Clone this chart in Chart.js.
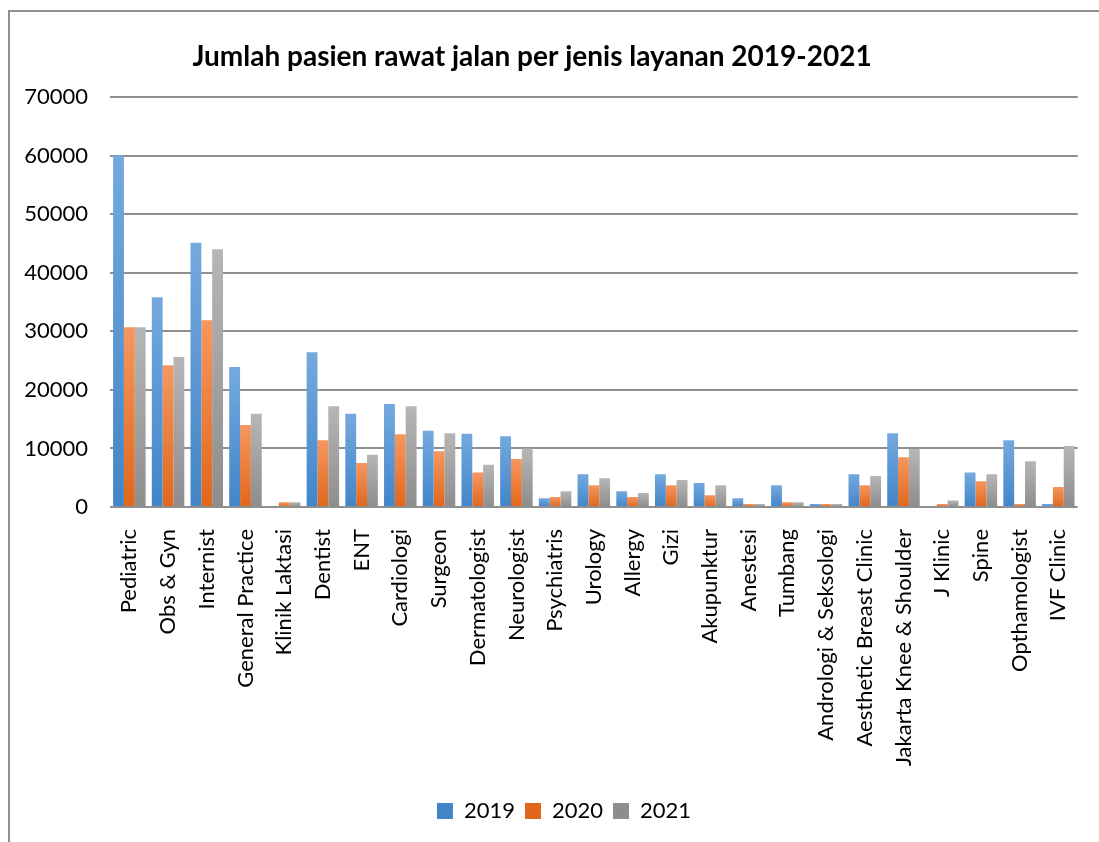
<!DOCTYPE html>
<html>
<head>
<meta charset="utf-8">
<script src="https://cdn.jsdelivr.net/npm/chart.js@4.4.1/dist/chart.umd.min.js"></script>
<style>
  html, body { margin: 0; padding: 0; background: #fff; overflow: hidden; }
  #frame {
    position: absolute; left: 8px; top: 10px; width: 1200px; height: 900px;
    border-left: 2px solid #8f8f8f; border-top: 2px solid #8f8f8f;
  }
  #wrap { position: absolute; left: 0; top: 0; width: 1099px; height: 842px; }
</style>
</head>
<body>
<div id="frame"></div>
<div id="wrap"><canvas id="chart-layanan" width="1099" height="842"></canvas></div>
<script>
// kategori layanan
const categories = [
    'Pediatric', 'Obs & Gyn', 'Internist', 'General Practice', 'Klinik Laktasi',
    'Dentist', 'ENT', 'Cardiologi', 'Surgeon', 'Dermatologist', 'Neurologist',
    'Psychiatris', 'Urology', 'Allergy', 'Gizi', 'Akupunktur', 'Anestesi',
    'Tumbang', 'Andrologi & Seksologi', 'Aesthetic Breast Clinic',
    'Jakarta Knee & Shoulder', 'J Klinic', 'Spine', 'Opthamologist', 'IVF Clinic'
];

const values2019 = [60000, 35800, 45100, 23900, 0, 26400, 15900, 17600, 13000, 12500, 12100,
    1500, 5600, 2700, 5600, 4100, 1500, 3700, 500, 5600, 12600, 0, 5900, 11400, 500];
const values2020 = [30700, 24200, 31900, 14000, 800, 11400, 7500, 12400, 9500, 5900, 8200,
    1700, 3700, 1700, 3700, 2000, 500, 800, 500, 3700, 8500, 500, 4400, 500, 3400];
const values2021 = [30700, 25600, 44000, 15900, 800, 17200, 8900, 17200, 12600, 7200, 10000,
    2700, 4900, 2400, 4600, 3700, 500, 800, 500, 5300, 9900, 1100, 5600, 7800, 10400];

const seriesNames = ['2019', '2020', '2021'];
const yTicks = [0, 10000, 20000, 30000, 40000, 50000, 60000, 70000];

const FONT = 'Lato, "Open Sans", sans-serif';

// warna gradasi ala Excel (atas terang, bawah gelap)
const palettes = [
    { top: '#74a9de', bottom: '#4285c8', solid: '#5b9bd5' },
    { top: '#f59760', bottom: '#e0671c', solid: '#ed7d31' },
    { top: '#b6b6b6', bottom: '#8d8d8d', solid: '#a5a5a5' }
];

function barFill(pal) {
    return function (context) {
        const chart = context.chart;
        const yScale = chart.scales && chart.scales.y;
        if (context.dataIndex === undefined || !yScale || !context.parsed) {
            return pal.solid;
        }
        const top = yScale.getPixelForValue(context.parsed.y);
        const bottom = yScale.getPixelForValue(0);
        if (!isFinite(top) || Math.abs(bottom - top) < 1) return pal.bottom;
        const g = chart.ctx.createLinearGradient(0, top, 0, bottom);
        g.addColorStop(0, pal.top);
        g.addColorStop(1, pal.bottom);
        return g;
    };
}

const seriesValues = [values2019, values2020, values2021];

const datasets = seriesNames.map((name, i) => ({
    label: name,
    data: seriesValues[i],
    backgroundColor: barFill(palettes[i]),
    borderWidth: 0,
    categoryPercentage: 0.84,
    barPercentage: 1.0
}));

// judul digambar manual agar posisinya sama dengan gambar asli
const titlePlugin = {
    id: 'judul',
    afterLayout(chart) {
        // geser legenda sedikit ke kanan
        if (chart.legend) {
            chart.legend.left += 12;
            chart.legend.right += 12;
        }
    },
    afterDraw(chart) {
        const ctx = chart.ctx;
        ctx.save();
        ctx.font = 'bold 28px ' + FONT;
        ctx.fillStyle = '#000';
        ctx.textAlign = 'center';
        ctx.textBaseline = 'alphabetic';
        ctx.fillText('Jumlah pasien rawat jalan per jenis layanan 2019-2021', 532, 66);
        ctx.restore();
    }
};

new Chart(document.getElementById('chart-layanan'), {
    type: 'bar',
    data: { labels: categories, datasets: datasets },
    plugins: [titlePlugin],
    options: {
        responsive: false,
        animation: false,
        layout: {
            padding: { top: 97, left: 20, right: 15, bottom: 10 }
        },
        plugins: {
            title: { display: false },
            tooltip: { enabled: false },
            legend: {
                display: true,
                position: 'bottom',
                labels: {
                    color: '#000',
                    font: { family: FONT, size: 22 },
                    boxWidth: 16,
                    boxHeight: 16,
                    padding: 10
                }
            }
        },
        scales: {
            x: {
                grid: { display: false },
                border: { display: false },
                ticks: {
                    color: '#000',
                    font: { family: FONT, size: 22 },
                    autoSkip: false,
                    minRotation: 90,
                    maxRotation: 90,
                    padding: 14
                },
                afterFit(scale) { scale.height = 283; }
            },
            y: {
                min: 0,
                max: 70000,
                afterBuildTicks(scale) {
                    scale.ticks = yTicks.map(v => ({ value: v }));
                },
                grid: {
                    color: '#8f8f8f',
                    lineWidth: 2,
                    drawTicks: false
                },
                border: { display: false },
                ticks: {
                    color: '#000',
                    font: { family: FONT, size: 22 },
                    padding: 22,
                    callback: function (value) {
                        return String(value);
                    }
                },
                afterFit(scale) { scale.width = 90; }
            }
        }
    }
});
</script>
</body>
</html>
